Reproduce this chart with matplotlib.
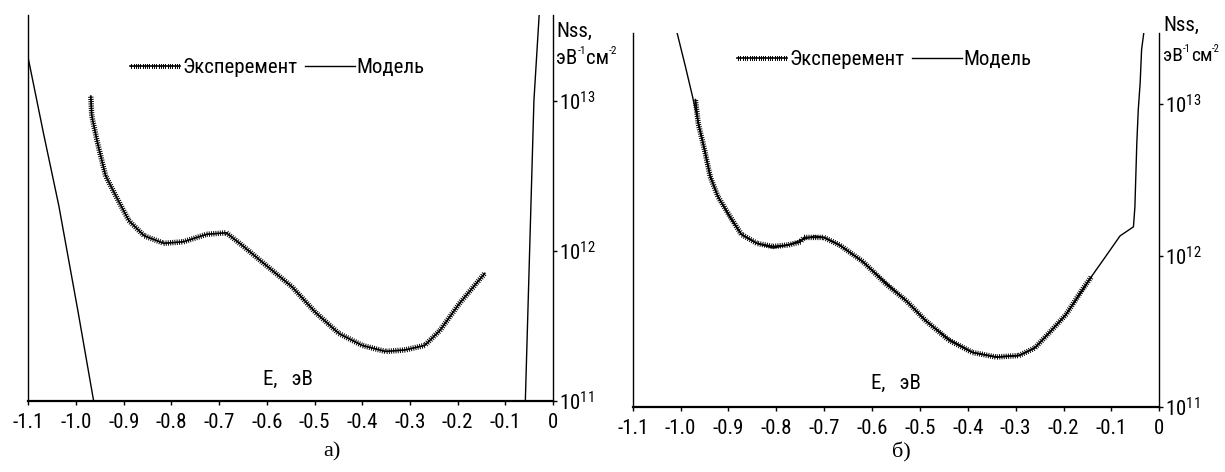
import numpy as np
import matplotlib
matplotlib.use("Agg")
import matplotlib.pyplot as plt
import matplotlib.patheffects as pe
from matplotlib import font_manager

# --- data (log10 of Nss, eV^-1 cm^-2) ---
e_exp_a = [-0.969, -0.967, -0.955, -0.938, -0.914, -0.889, -0.857, -0.816, -0.775, -0.726,
           -0.685, -0.653, -0.604, -0.547, -0.498, -0.449, -0.400, -0.351, -0.310, -0.269,
           -0.237, -0.196, -0.143]
lg_exp_a = [13.03, 12.90, 12.72, 12.50, 12.35, 12.20, 12.10, 12.05, 12.06, 12.11,
            12.12, 12.04, 11.91, 11.76, 11.59, 11.45, 11.37, 11.33, 11.34, 11.37,
            11.47, 11.65, 11.85]

e_mod_a_left = [-1.100, -1.068, -1.036, -0.996, -0.963]
lg_mod_a_left = [13.28, 12.78, 12.30, 11.60, 11.00]
e_mod_a_right = [-0.058, -0.049, -0.040, -0.029]
lg_mod_a_right = [11.00, 12.00, 13.00, 13.57]

e_exp_b = [-0.969, -0.963, -0.950, -0.938, -0.922, -0.897, -0.873, -0.840, -0.807, -0.775,
           -0.750, -0.742, -0.701, -0.668, -0.619, -0.570, -0.528, -0.488, -0.439, -0.390,
           -0.341, -0.293, -0.260, -0.227, -0.195, -0.162, -0.142]
lg_exp_b = [13.03, 12.87, 12.70, 12.52, 12.39, 12.26, 12.14, 12.08, 12.06, 12.07,
            12.09, 12.12, 12.12, 12.07, 11.96, 11.81, 11.70, 11.57, 11.44, 11.36,
            11.33, 11.34, 11.39, 11.50, 11.61, 11.77, 11.86]

e_mod_b = [-1.008, -0.990, -0.975, -0.963, -0.950, -0.938, -0.922, -0.897, -0.873, -0.840,
           -0.807, -0.775, -0.750, -0.720, -0.700, -0.668, -0.620, -0.570, -0.528, -0.488,
           -0.440, -0.390, -0.340, -0.293, -0.260, -0.227, -0.195, -0.162, -0.142, -0.113,
           -0.082, -0.054, -0.051, -0.047, -0.044, -0.040, -0.037, -0.032]
lg_mod_b = [13.48, 13.25, 13.05, 12.88, 12.70, 12.53, 12.39, 12.25, 12.14, 12.08,
            12.05, 12.07, 12.10, 12.13, 12.12, 12.07, 11.96, 11.82, 11.70, 11.57,
            11.45, 11.36, 11.33, 11.34, 11.39, 11.50, 11.61, 11.76, 11.86, 11.99,
            12.13, 12.19, 12.32, 12.74, 12.96, 13.14, 13.36, 13.48]

xticks = [-1.1, -1.0, -0.9, -0.8, -0.7, -0.6, -0.5, -0.4, -0.3, -0.2, -0.1, 0.0]
xticklabels = ["-1.1", "-1.0", "-0.9", "-0.8", "-0.7", "-0.6", "-0.5", "-0.4",
               "-0.3", "-0.2", "-0.1", "0"]
yticks = [1e11, 1e12, 1e13]
yticklabels = [r"$10^{11}$", r"$10^{12}$", r"$10^{13}$"]

# --- fonts ---
def pick(names):
    for n in names:
        try:
            font_manager.findfont(n, fallback_to_default=False)
            return n
        except Exception:
            pass
    return "DejaVu Sans"

narrow = pick(["Liberation Sans Narrow", "Roboto Condensed", "Open Sans Condensed", "Liberation Sans"])
serif = pick(["Liberation Serif", "DejaVu Serif"])
plt.rcParams["font.family"] = [narrow, "DejaVu Sans"]
plt.rcParams["mathtext.fontset"] = "custom"
plt.rcParams["mathtext.rm"] = narrow
plt.rcParams["mathtext.it"] = narrow
plt.rcParams["mathtext.bf"] = narrow

W, H = 1225, 472
fig = plt.figure(figsize=(W / 100, H / 100), dpi=100)

# hairy look of the measured curve
exp_fx = [pe.TickedStroke(angle=-90, spacing=1.6, length=1.0, linewidth=0.7),
          pe.TickedStroke(angle=90, spacing=1.6, length=1.0, linewidth=0.7),
          pe.Normal()]


def setup(ax, top):
    ax.set_yscale("log")
    ax.set_xlim(-1.1, 0)
    ax.set_ylim(1e11, 10 ** top)
    ax.spines["top"].set_visible(False)
    for s in ["left", "right"]:
        ax.spines[s].set_linewidth(1.0)
    ax.spines["bottom"].set_linewidth(1.6)
    ax.yaxis.tick_right()
    ax.set_xticks(xticks)
    ax.set_xticklabels(xticklabels, fontsize=15)
    ax.set_yticks(yticks)
    ax.set_yticklabels(yticklabels, fontsize=15)
    ax.minorticks_off()
    ax.tick_params(axis="x", direction="out", length=3, width=1, pad=6)
    ax.tick_params(axis="y", direction="out", length=3, width=1, pad=1)


def px(x, y):
    return x / W, 1 - y / H


def unit_label(ax, x, y, size=15):
    # эВ^-1 см^-2 with small raised exponents
    t1 = fig.text(*px(x, y), "эВ", ha="left", va="baseline", fontsize=size)
    s1 = ax.annotate("-1", xy=(1, 0.62), xycoords=t1, fontsize=size * 0.55,
                     ha="left", va="bottom", annotation_clip=False)
    t2 = ax.annotate("см", xy=(1, 0), xycoords=(s1, t1), fontsize=size,
                     ha="left", va="bottom", annotation_clip=False)
    ax.annotate("-2", xy=(1, 0.62), xycoords=t2, fontsize=size * 0.55,
                ha="left", va="bottom", annotation_clip=False)


# panel a
l, b = px(28.3, 401)
r, t = px(553, 15)
ax1 = fig.add_axes([l, b, r - l, t - b])
setup(ax1, 13.57)
ax1.plot(e_exp_a, 10 ** np.array(lg_exp_a), color="black", lw=1.2, path_effects=exp_fx,
         label="Эксперемент")
ax1.plot(e_mod_a_left, 10 ** np.array(lg_mod_a_left), color="black", lw=1.0, label="Модель")
ax1.plot(e_mod_a_right, 10 ** np.array(lg_mod_a_right), color="black", lw=1.0)
ax1.legend(loc="center", bbox_to_anchor=(0.475, 0.863), ncol=2, frameon=False, fontsize=15,
           handlelength=2.4, handletextpad=0.1, columnspacing=0.35)
ax1.text(0.495, 0.055, "E,   эВ", transform=ax1.transAxes, ha="center", va="center", fontsize=15)

# panel b
l, b = px(632.7, 407)
r, t = px(1159.3, 33)
ax2 = fig.add_axes([l, b, r - l, t - b])
setup(ax2, 13.47)
ax2.plot(e_exp_b, 10 ** np.array(lg_exp_b), color="black", lw=1.2, path_effects=exp_fx,
         label="Эксперемент")
ax2.plot(e_mod_b, 10 ** np.array(lg_mod_b), color="black", lw=1.0, label="Модель")
ax2.legend(loc="center", bbox_to_anchor=(0.478, 0.928), ncol=2, frameon=False, fontsize=15,
           handlelength=2.4, handletextpad=0.1, columnspacing=0.35)
ax2.text(0.5, 0.064, "E,   эВ", transform=ax2.transAxes, ha="center", va="center", fontsize=15)

# y axis titles
fig.text(*px(556, 31), "Nss,", ha="left", va="center", fontsize=15)
unit_label(ax1, 556, 64, 15)
fig.text(*px(1163, 25), "Nss,", ha="left", va="center", fontsize=15)
unit_label(ax2, 1163, 61, 14)

# panel captions
fig.text(*px(332, 452), "а)", ha="center", va="center", fontsize=16, family=serif)
fig.text(*px(901, 452), "б)", ha="center", va="center", fontsize=16, family=serif)

fig.savefig("out.png", dpi=100)
